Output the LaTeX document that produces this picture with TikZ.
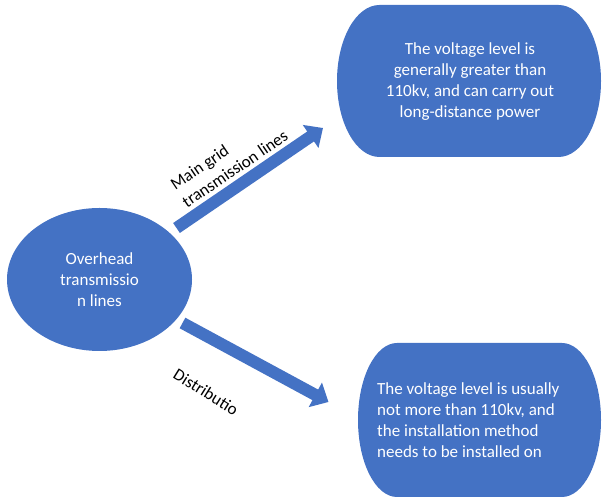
\documentclass[tikz,border=0pt]{standalone}
\usepackage{fontspec}
\setmainfont{Carlito}
\usetikzlibrary{arrows.meta,shapes.geometric}
\definecolor{obl}{HTML}{4472C4}
\begin{document}
\begin{tikzpicture}[x=1pt,y=1pt,
  blk/.style={fill=obl, draw=none},
  wtxt/.style={text=white, font=\fontsize{17}{21}\selectfont, align=center, inner sep=0pt},
  lbl/.style={text=black, font=\fontsize{17}{21}\selectfont, align=left, inner sep=0pt},
  barrow/.style={draw=obl, line width=12pt, -{Triangle[length=15pt 0 0,width=27pt 0 0]}}]
\useasboundingbox (0,0) rectangle (602,497);
% central ellipse
\node[ellipse, blk, minimum width=185pt, minimum height=143pt, wtxt] (oh) at (99.5,217.5) {Overhead\\transmissio\\n lines};
% top terminator box
\path[blk] (379.5,492) -- (558.5,492) arc[start angle=90,end angle=-90,x radius=42.5,y radius=76]
  -- (379.5,340) arc[start angle=270,end angle=90,x radius=42.5,y radius=76] -- cycle;
\node[wtxt] (top) at (470,415) {The voltage level is\\generally greater than\\110kv, and can carry out\\long-distance power};
% bottom terminator box
\path[blk] (397,154) -- (562,154) arc[start angle=90,end angle=-90,x radius=39,y radius=77]
  -- (397,0) arc[start angle=270,end angle=90,x radius=39,y radius=77] -- cycle;
\node[wtxt, align=left, anchor=west] (bot) at (377,77) {The voltage level is usually\\not more than 110kv, and\\the installation method\\needs to be installed on};
% arrows
\coordinate (a1s) at (176.5,269);
\coordinate (a1e) at (323,369);
\draw[barrow] (a1s) -- (a1e);
\coordinate (a2s) at (182.5,174);
\coordinate (a2e) at (328.5,95);
\draw[barrow] (a2s) -- (a2e);
% labels
\node[lbl, rotate=34] (l1) at (229,337) {Main grid\\transmission lines};
\node[lbl, rotate=-32] (l2) at (206,105) {Distributio};
\end{tikzpicture}
\end{document}
